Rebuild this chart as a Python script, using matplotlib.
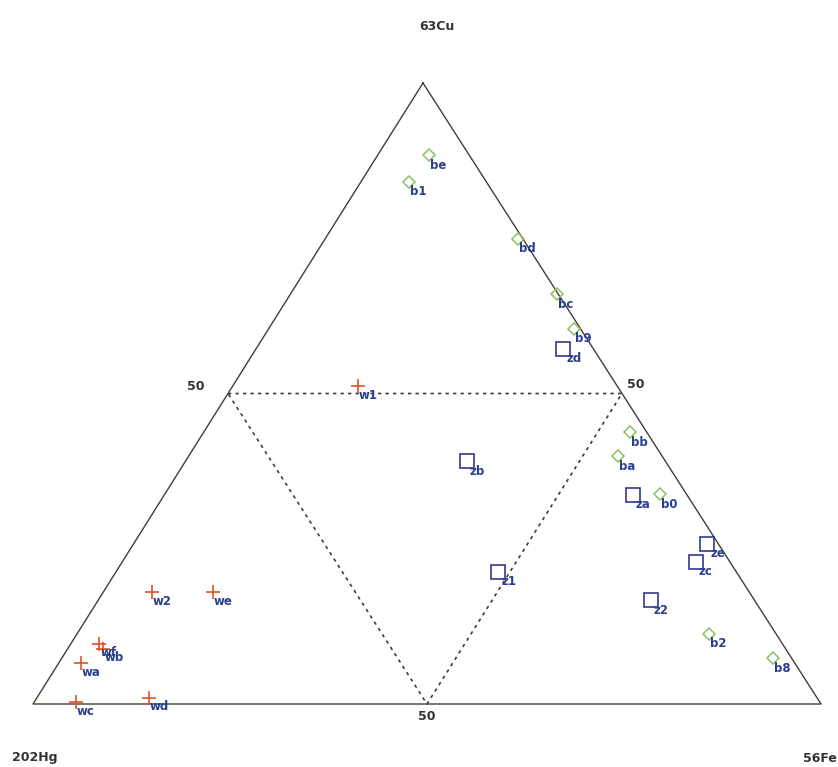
import matplotlib
matplotlib.use("Agg")
import matplotlib.pyplot as plt
import numpy as np

# Ternary compositions (%): 63Cu, 202Hg, 56Fe
b_names = ["be", "b1", "bd", "bc", "b9", "bb", "ba", "b0", "b2", "b8"]
b_cu = [88.4, 84.1, 74.9, 66.0, 60.4, 43.8, 39.9, 33.8, 11.3, 7.4]
b_hg = [5.1, 9.8, 0.6, 0.2, 0.8, 2.1, 5.6, 3.4, 8.5, 2.4]
b_fe = [6.5, 6.1, 24.5, 33.8, 38.8, 54.1, 54.5, 62.8, 80.2, 90.2]

z_names = ["zd", "za", "ze", "zc", "z2", "zb", "z1"]
z_cu = [57.2, 33.7, 25.8, 22.9, 16.7, 39.1, 21.3]
z_hg = [3.8, 6.9, 1.4, 4.3, 13.2, 25.2, 30.2]
z_fe = [39.0, 59.4, 72.8, 72.8, 70.1, 35.7, 48.5]

w_names = ["w1", "w2", "we", "wf", "wb", "wa", "wc", "wd"]
w_cu = [51.2, 18.0, 18.0, 9.7, 8.9, 6.6, 0.3, 1.0]
w_hg = [32.9, 75.8, 68.1, 86.7, 86.6, 90.6, 94.4, 84.8]
w_fe = [15.9, 6.2, 13.9, 3.6, 4.5, 2.8, 5.3, 14.2]

apex_labels = ["63Cu", "202Hg", "56Fe"]
mid_label = "50"

# Corner positions of the triangle on the canvas (pixels)
TOP = np.array([423.0, 83.0])
LEFT = np.array([33.0, 704.0])
RIGHT = np.array([821.0, 704.0])


def to_xy(cu, hg, fe):
    cu, hg, fe = (np.asarray(v, dtype=float) for v in (cu, hg, fe))
    s = cu + hg + fe
    a, b, c = cu / s, hg / s, fe / s
    x = a * TOP[0] + b * LEFT[0] + c * RIGHT[0]
    y = a * TOP[1] + b * LEFT[1] + c * RIGHT[1]
    return x, y


fig = plt.figure(figsize=(8.38, 7.67), dpi=100)
ax = fig.add_axes([0, 0, 1, 1])
ax.set_xlim(0, 838)
ax.set_ylim(767, 0)
ax.axis("off")

# Outer triangle
ox, oy = to_xy([100, 0, 0, 100], [0, 100, 0, 0], [0, 0, 100, 0])
ax.plot(ox, oy, color="#3f3f33", lw=1.0, zorder=1)

# Inner dotted triangle joining the 50% points
ix, iy = to_xy([50, 50, 0, 50], [50, 0, 50, 50], [0, 50, 50, 0])
ax.plot(ix, iy, color="#3d3d3d", lw=1.2, linestyle=(0, (2.0, 2.5)), zorder=1)

label_color = "#2b3f8f"
tkw = dict(fontsize=8.5, fontweight="bold", color=label_color, ha="left",
           va="center", zorder=5)

# Series b: open green diamonds
bx, by = to_xy(b_cu, b_hg, b_fe)
ax.plot(bx, by, linestyle="none", marker="D", ms=6.6, mfc="none",
        mec="#8cc063", mew=1.1, zorder=3)
for n, x, y in zip(b_names, bx, by):
    ax.text(x + 1, y + 10, n, **tkw)

# Series z: open navy squares
zx, zy = to_xy(z_cu, z_hg, z_fe)
ax.plot(zx, zy, linestyle="none", marker="s", ms=9.5, mfc="none",
        mec="#34378a", mew=1.2, zorder=3)
for n, x, y in zip(z_names, zx, zy):
    ax.text(x + 3, y + 10, n, **tkw)

# Series w: red-orange plus signs
wx, wy = to_xy(w_cu, w_hg, w_fe)
ax.plot(wx, wy, linestyle="none", marker="+", ms=10.5, mec="#e2512a",
        mew=1.2, zorder=3)
for n, x, y in zip(w_names, wx, wy):
    ax.text(x + 1, y + 9, n, **tkw)

# Apex labels
akw = dict(fontsize=9, fontweight="bold", color="#333333", va="center")
ax.text(437, 27, apex_labels[0], ha="center", **akw)
ax.text(12, 758, apex_labels[1], ha="left", **akw)
ax.text(837, 758, apex_labels[2], ha="right", **akw)

# 50% tick labels
ax.text(196, 387, mid_label, ha="center", **akw)
ax.text(636, 384, mid_label, ha="center", **akw)
ax.text(427, 716, mid_label, ha="center", **akw)

fig.savefig("out.png", dpi=100, facecolor="white")
